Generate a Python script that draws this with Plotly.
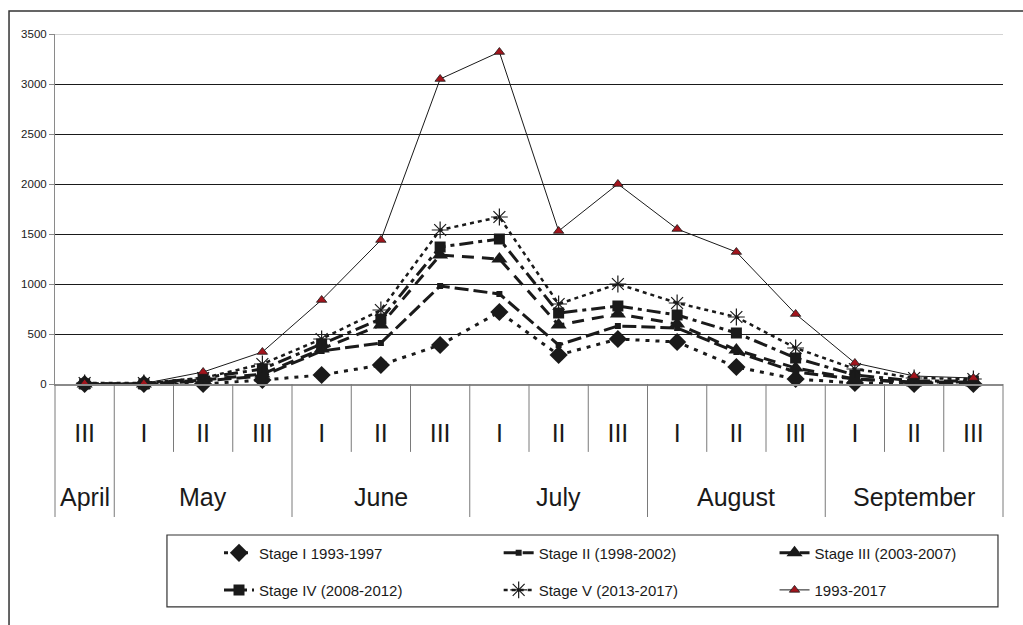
import plotly.graph_objects as go

# Ten-day periods (decades) from the last decade of April to the end of September
periods = ["III", "I", "II", "III", "I", "II", "III", "I", "II", "III",
           "I", "II", "III", "I", "II", "III"]
months = ["April", "May", "June", "July", "August", "September"]
month_spans = [1, 3, 3, 3, 3, 3]  # number of decades per month

stage1 = [0, 0, 0, 40, 90, 190, 390, 720, 290, 450, 420, 170, 50, 10, 0, 0]
stage2 = [0, 0, 30, 80, 330, 410, 980, 900, 390, 580, 560, 320, 120, 50, 20, 20]
stage3 = [0, 0, 40, 100, 350, 590, 1290, 1250, 590, 700, 600, 340, 160, 50, 10, 10]
stage4 = [0, 0, 60, 150, 400, 650, 1370, 1450, 710, 780, 690, 510, 260, 90, 30, 30]
stage5 = [10, 10, 60, 200, 450, 740, 1540, 1670, 800, 1000, 810, 670, 360, 150, 60, 50]
total = [5, 5, 120, 320, 840, 1440, 3050, 3320, 1530, 2000, 1550, 1320, 700, 210, 80, 60]

x = list(range(len(periods)))

FONT = "Liberation Sans, Arial, sans-serif"
INK = "#1a1a1a"

# legend slots: (column x in paper units, row y in paper units)
COLS = [0.1730, 0.4680, 0.7590]
ROWS = [-0.483, -0.589]

series = [
    dict(name="Stage I 1993-1997", y=stage1, dash="4px,6px", width=3,
         marker=dict(symbol="diamond", size=14, color=INK), slot=(0, 0)),
    dict(name="Stage II (1998-2002)", y=stage2, dash="14px,5px", width=3,
         marker=dict(symbol="square", size=6, color=INK), slot=(1, 0)),
    dict(name="Stage III (2003-2007)", y=stage3, dash="12px,8px", width=3,
         marker=dict(symbol="triangle-up", size=14, color=INK), slot=(2, 0)),
    dict(name="Stage IV (2008-2012)", y=stage4, dash="14px,5px,4px,5px", width=3,
         marker=dict(symbol="square", size=11, color=INK), slot=(0, 1)),
    dict(name="Stage V (2013-2017)", y=stage5, dash="4px,4px", width=2.5,
         marker=dict(symbol="asterisk-open", size=14, color=INK,
                     line=dict(width=1.2, color=INK)), slot=(1, 1)),
    dict(name="1993-2017", y=total, dash="solid", width=1,
         marker=dict(symbol="triangle-up", size=9, color="#a3141c",
                     line=dict(width=0.8, color=INK)), slot=(2, 1)),
]

fig = go.Figure()
legend_layouts = {}
for k, s in enumerate(series):
    key = "legend" if k == 0 else f"legend{k + 1}"
    col, row = s["slot"]
    legend_layouts[key] = dict(
        x=COLS[col], y=ROWS[row], xanchor="left", yanchor="middle",
        bgcolor="rgba(0,0,0,0)", borderwidth=0,
        font=dict(family=FONT, size=15, color=INK))
    fig.add_trace(go.Scatter(
        x=x, y=s["y"], name=s["name"], mode="lines+markers",
        line=dict(color=INK, width=s["width"], dash=s["dash"]),
        marker=s["marker"], legend=key, cliponaxis=False,
    ))

shapes = []
# outer frame of the figure
shapes.append(dict(type="rect", xref="paper", yref="paper",
                   x0=-0.0485, x1=1.03, y0=-0.75, y1=1.0657,
                   line=dict(color="#333333", width=1.5), layer="below"))
# light top gridline at 3500
shapes.append(dict(type="line", xref="paper", yref="y", x0=0, x1=1, y0=3500, y1=3500,
                   line=dict(color="#c4c4c4", width=1.5), layer="above"))

# separators between decades and between months below the axis
n = len(periods)
month_edges = {0}
acc = 0
for span in month_spans:
    acc += span
    month_edges.add(acc)
for i in range(n + 1):
    y_end = -0.38 if i in month_edges else -0.194
    shapes.append(dict(type="line", xref="paper", yref="paper",
                       x0=i / n, x1=i / n, y0=0, y1=y_end,
                       line=dict(color="#7a7a7a", width=1)))

# legend box
shapes.append(dict(type="rect", xref="paper", yref="paper",
                   x0=0.1181, x1=0.9947, y0=-0.637, y1=-0.4314,
                   line=dict(color="#333333", width=1.2)))

annotations = []
start = 0
for m, span in zip(months, month_spans):
    annotations.append(dict(x=start + (span - 1) / 2, xref="x", y=-0.323, yref="paper",
                            text=m, showarrow=False, yanchor="middle",
                            font=dict(family=FONT, size=25, color=INK)))
    start += span

fig.update_layout(
    width=1023, height=625,
    margin=dict(l=55, r=20, t=34, b=241),
    paper_bgcolor="white", plot_bgcolor="white",
    showlegend=True,
    shapes=shapes, annotations=annotations,
    xaxis=dict(range=[-0.5, n - 0.5], tickmode="array", tickvals=x, ticktext=periods,
               showgrid=False, zeroline=False, showline=True, linecolor="#8a8a8a",
               linewidth=2, ticks="", ticklabelstandoff=26,
               tickfont=dict(family=FONT, size=25, color=INK)),
    yaxis=dict(range=[0, 3500], dtick=500, showgrid=True, gridcolor=INK, gridwidth=1,
               zeroline=False, showline=True, linecolor="#8a8a8a", linewidth=1,
               ticks="outside", ticklen=5, tickcolor="#8a8a8a",
               tickfont=dict(family=FONT, size=11.5, color=INK)),
    **legend_layouts,
)

fig.write_html("out.html")
